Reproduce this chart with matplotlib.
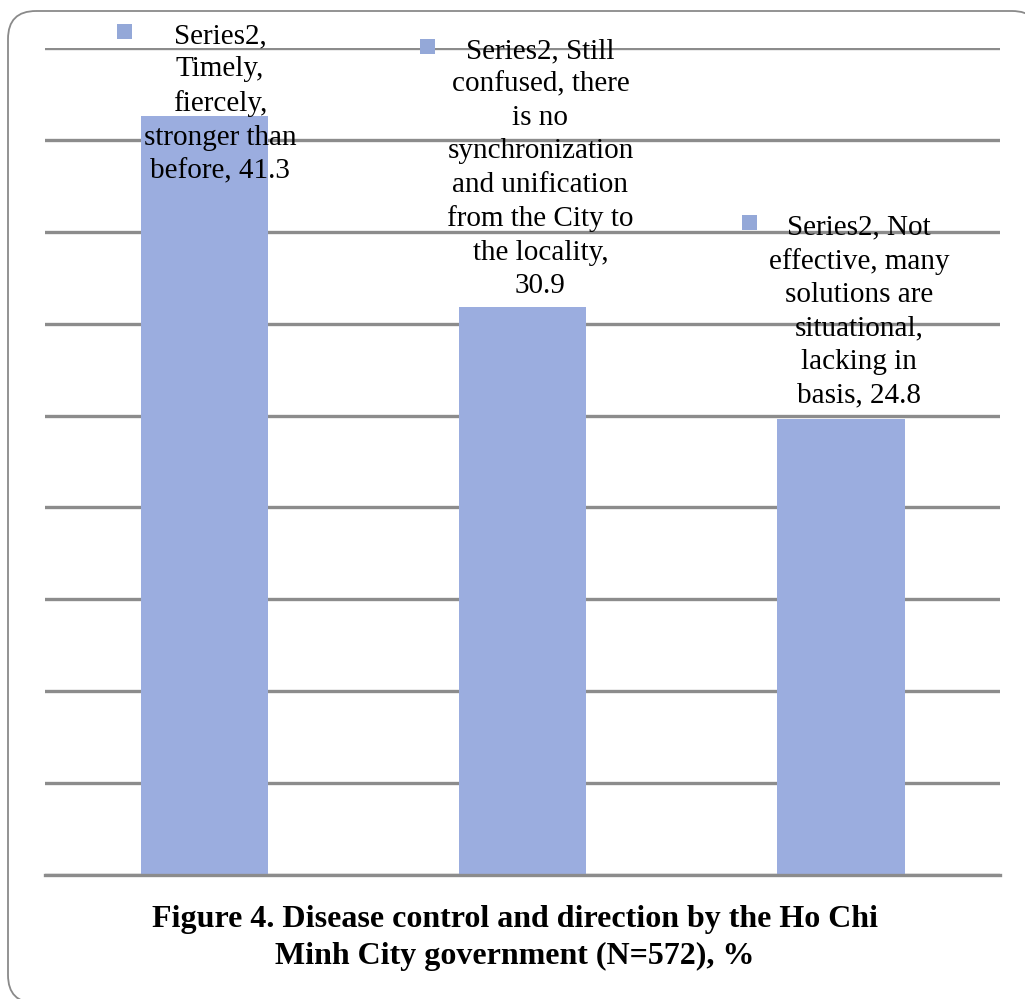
import matplotlib
matplotlib.use("Agg")
import matplotlib.pyplot as plt
from matplotlib.patches import PathPatch, Rectangle
from matplotlib.path import Path

# Data
categories = [
    "Timely, fiercely, stronger than before",
    "Still confused, there is no synchronization and unification from the City to the locality",
    "Not effective, many solutions are situational, lacking in basis",
]
values = [41.3, 30.9, 24.8]
series_name = "Series2"
label_texts = [
    "Series2,\nTimely,\nfiercely,\nstronger than\nbefore, 41.3",
    "Series2, Still\nconfused, there\nis no\nsynchronization\nand unification\nfrom the City to\nthe locality,\n30.9",
    "Series2, Not\neffective, many\nsolutions are\nsituational,\nlacking in\nbasis, 24.8",
]
title = "Figure 4. Disease control and direction by the Ho Chi\nMinh City government (N=572), %"

BAR_COLOR = "#9BADDF"
KEY_COLOR = "#94A8D8"
GRID_COLOR = "#8C8C8C"
SERIF = ["Liberation Serif", "DejaVu Serif"]

W, H = 1025, 999
fig = plt.figure(figsize=(W / 100, H / 100), dpi=100)
fig.patch.set_facecolor("white")

# rounded outer frame, built in pixel coordinates (filled white, kept behind the axes)
L, R, B, T, rad = 8, 1040, -4, 988, 28
verts = [(L + rad, T), (R - rad, T), (R, T), (R, T - rad), (R, B + rad), (R, B), (R - rad, B),
         (L + rad, B), (L, B), (L, B + rad), (L, T - rad), (L, T), (L + rad, T)]
codes = [Path.MOVETO, Path.LINETO, Path.CURVE3, Path.CURVE3, Path.LINETO, Path.CURVE3, Path.CURVE3,
         Path.LINETO, Path.CURVE3, Path.CURVE3, Path.LINETO, Path.CURVE3, Path.CURVE3]
frame = PathPatch(Path(verts, codes), transform=None, facecolor="white",
                  edgecolor="#8A8A8A", linewidth=1.3, zorder=-1)
fig.add_artist(frame)

ax = fig.add_axes([45 / W, 1 - 875 / H, 955 / W, (875 - 48) / H])
ax.set_facecolor("none")
x = list(range(len(values)))
ax.bar(x, values, width=0.4, color=BAR_COLOR, zorder=2)
ax.set_xlim(-0.5, 2.5)
ax.set_ylim(0, 45)
ax.set_yticks(range(0, 46, 5))
ax.yaxis.grid(True, color=GRID_COLOR, linewidth=2.4, zorder=1)
ax.set_axisbelow(True)
ax.tick_params(left=False, bottom=False, labelleft=False, labelbottom=False)
for s in ax.spines.values():
    s.set_visible(False)
ax.axhline(0, color=GRID_COLOR, linewidth=2.4, zorder=3, clip_on=False)

# data labels: (dx px, dy px)
offsets = [(16, -68), (18, 8), (18, 11)]
texts = []
for i, (v, lab) in enumerate(zip(values, label_texts)):
    dx, dy = offsets[i]
    t = ax.annotate(lab, xy=(i, v), xytext=(dx * 0.72, dy * 0.72),
                    textcoords="offset points", ha="center", va="bottom",
                    fontsize=21, family=SERIF, linespacing=1.37,
                    annotation_clip=False, zorder=4)
    texts.append(t)

fig.canvas.draw()
r = fig.canvas.get_renderer()
for t in texts:
    bb = t.get_window_extent(r)
    x0 = bb.x0 - 27
    y1 = bb.y1 - 1
    rect = Rectangle((x0, y1 - 15), 15, 15, transform=None,
                     facecolor=KEY_COLOR, edgecolor="none", zorder=5)
    fig.add_artist(rect)

fig.text(515 / W, 1 - 938 / H, title, ha="center", va="center",
         fontsize=23, fontweight="bold", family=SERIF, linespacing=1.37)

fig.savefig("out.png", dpi=100, facecolor="white")
